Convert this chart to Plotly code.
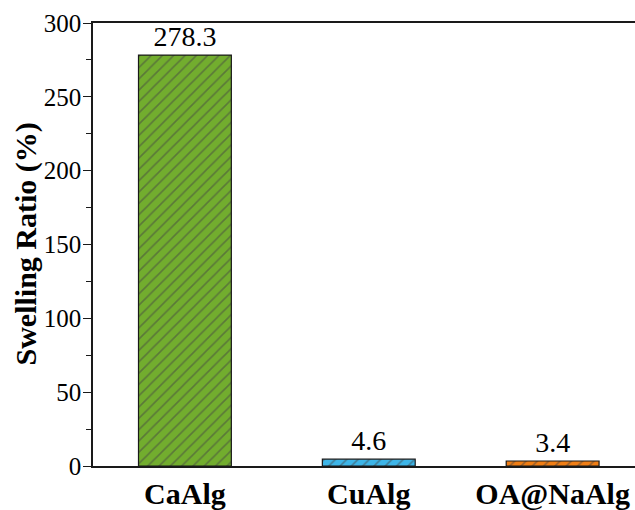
import plotly.graph_objects as go

# Swelling ratio of the three alginate hydrogels
samples = ["CaAlg", "CuAlg", "OA@NaAlg"]
swelling = [278.3, 4.6, 3.4]
bar_colors = ["#72AD2E", "#3DB5E8", "#F07E15"]
y_ticks = [0, 50, 100, 150, 200, 250, 300]
y_title = "Swelling Ratio (%)"

FONT = "Liberation Serif"

fig = go.Figure(
    go.Bar(
        x=samples,
        y=swelling,
        width=0.505,
        marker=dict(
            color=bar_colors,
            line=dict(color="#1a1a1a", width=1.2),
            pattern=dict(shape="/", fgcolor="#1a1a1a", size=8, solidity=0.2),
        ),
        text=[f"{v:.1f}" for v in swelling],
        textposition="outside",
        textfont=dict(family=FONT, size=28, color="black"),
        cliponaxis=False,
    )
)

fig.update_layout(
    width=635,
    height=510,
    margin=dict(l=93, r=0, t=23, b=42),
    plot_bgcolor="white",
    paper_bgcolor="white",
    showlegend=False,
    font=dict(family=FONT, color="black"),
)

fig.update_xaxes(
    range=[-0.5, 2.448],
    showline=True,
    linecolor="#1a1a1a",
    linewidth=1.5,
    mirror=True,
    ticks="",
    showgrid=False,
    tickfont=dict(family=FONT, size=30, color="black", weight="bold"),
)

fig.update_yaxes(
    range=[0, 300],
    tickvals=y_ticks,
    showline=True,
    linecolor="#1a1a1a",
    linewidth=1.5,
    ticks="outside",
    ticklen=8,
    tickwidth=1.2,
    tickcolor="#1a1a1a",
    ticklabelstandoff=-3,
    minor=dict(ticks="outside", dtick=25, ticklen=5, tickwidth=1.2, tickcolor="#1a1a1a"),
    showgrid=False,
    zeroline=False,
    tickfont=dict(family=FONT, size=25, color="black"),
)

# Rotated y-axis title placed close to the tick labels
fig.add_annotation(
    text=y_title,
    xref="paper",
    yref="paper",
    x=0,
    y=0.5,
    xanchor="center",
    yanchor="middle",
    xshift=-68,
    yshift=0,
    textangle=-90,
    showarrow=False,
    font=dict(family=FONT, size=30, color="black", weight="bold"),
)

fig.write_html("out.html")
